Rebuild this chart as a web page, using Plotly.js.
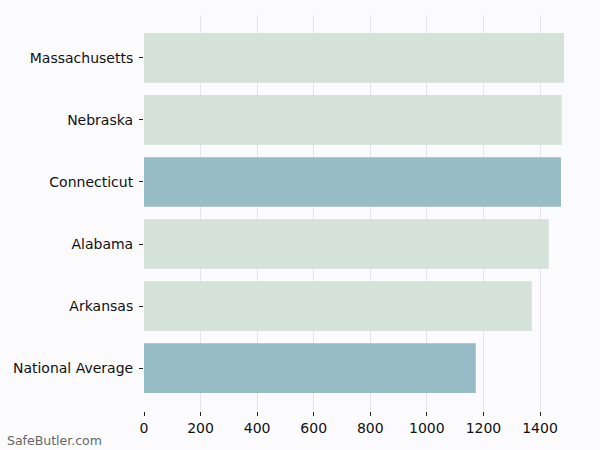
<!DOCTYPE html>
<html>
<head>
<meta charset="utf-8">
<script src="https://cdn.plot.ly/plotly-3.0.1.min.js"></script>
<style>
  body { margin: 0; padding: 0; background: #fbfbfe; }
  #chart { width: 600px; height: 450px; }
</style>
</head>
<body>
<div id="chart"></div>
<script>
// values (top to bottom)
var states = ['Massachusetts', 'Nebraska', 'Connecticut', 'Alabama', 'Arkansas', 'National Average']
var premiums = [1485, 1477, 1474, 1431, 1371, 1173]
var barColors = ['#d5e2d9', '#d5e2d9', '#97bcc5', '#d5e2d9', '#d5e2d9', '#97bcc5']
var xTicks = [0, 200, 400, 600, 800, 1000, 1200, 1400]

// bottom to top for plotly
var ys = states.slice().reverse()
var xs = premiums.slice().reverse()
var cs = barColors.slice().reverse()

var data = [
    {
        type: 'bar',
        orientation: 'h',
        y: ys,
        x: xs,
        width: 0.8,
        marker: { color: cs },
        hoverinfo: 'x+y'
    }
]

var layout = {
    width: 600,
    height: 450,
    paper_bgcolor: '#fbfbfe',
    plot_bgcolor: '#fbfbfe',
    showlegend: false,
    margin: { l: 144, r: 15, t: 15, b: 39 },
    font: { family: 'DejaVu Sans', size: 14, color: '#111' },
    xaxis: {
        range: [0, 1559],
        tickvals: xTicks,
        ticktext: xTicks.map(String),
        showgrid: true,
        gridcolor: '#e4e4ea',
        gridwidth: 1,
        zeroline: false,
        showline: false,
        ticks: 'outside',
        ticklen: 4,
        tickcolor: '#222',
        tickfont: { family: 'DejaVu Sans', size: 14, color: '#111' }
    },
    yaxis: {
        range: [-0.69, 5.69],
        showgrid: false,
        zeroline: false,
        showline: false,
        ticks: 'outside',
        ticklen: 4,
        tickcolor: '#222',
        ticklabelstandoff: 3,
        tickfont: { family: 'DejaVu Sans', size: 14, color: '#111' }
    },
    annotations: [
        {
            text: 'SafeButler.com',
            xref: 'paper', yref: 'paper',
            x: -144 / 441, y: -39 / 396,
            xanchor: 'left', yanchor: 'bottom',
            xshift: 5, yshift: 0,
            showarrow: false,
            font: { family: 'DejaVu Sans', size: 12.5, color: '#666' }
        }
    ]
}

Plotly.newPlot('chart', data, layout, { displayModeBar: false })
</script>
</body>
</html>
